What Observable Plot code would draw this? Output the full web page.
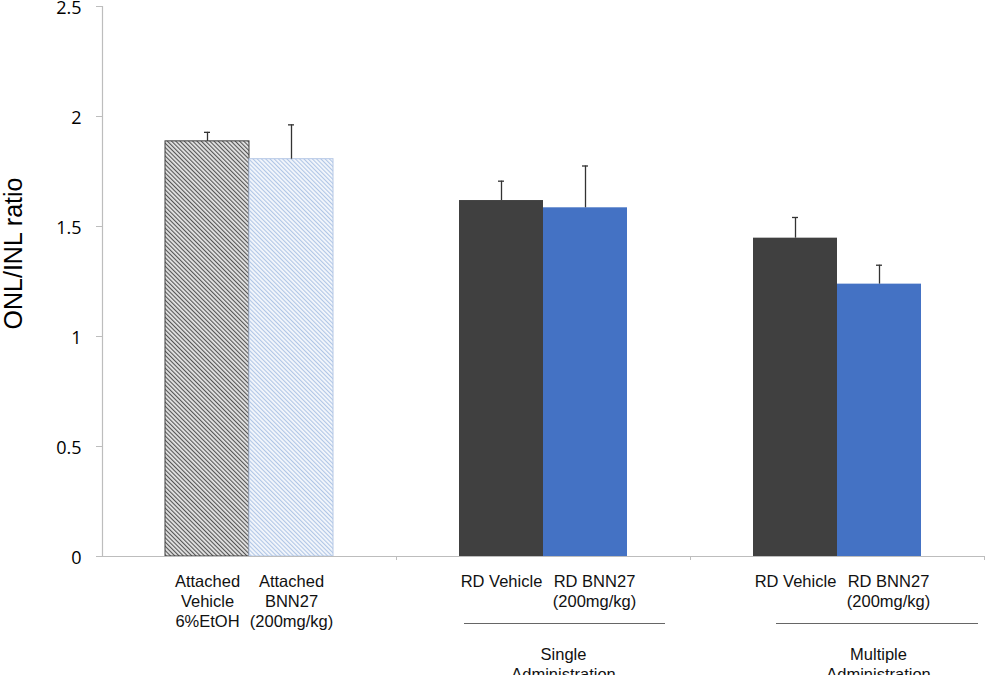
<!DOCTYPE html>
<html>
<head>
<meta charset="utf-8">
<script src="https://cdn.jsdelivr.net/npm/d3@7"></script>
<script src="https://cdn.jsdelivr.net/npm/@observablehq/plot@0.6"></script>
<style>
  html, body { margin: 0; padding: 0; background: #fff; overflow: hidden; }
</style>
</head>
<body>
<div id="chart"></div>
<script>
// ---- data ----
const groups = ["Attached", "Single", "Multiple"];
const sides = ["L", "R"];
const seriesKeys = ["attVehicle", "attBNN27", "rdVehicle", "rdBNN27", "rdVehicle", "rdBNN27"];
const barLabels = [
  "Attached\nVehicle\n6%EtOH",
  "Attached\nBNN27\n(200mg/kg)",
  "RD Vehicle",
  "RD BNN27\n(200mg/kg)",
  "RD Vehicle",
  "RD BNN27\n(200mg/kg)"
];
const means = [1.887, 1.806, 1.618, 1.585, 1.447, 1.238];
const errors = [0.041, 0.156, 0.088, 0.19, 0.094, 0.086];
const yTicks = [0, 0.5, 1, 1.5, 2, 2.5];
const yLabel = "ONL/INL ratio";
const annGroups = ["Single", "Multiple"];
const annTexts = ["Single\nAdministration", "Multiple\nAdministration"];

// ---- styles ----
const fillFor = {
  attVehicle: "url(#hatchDark)",
  attBNN27: "url(#hatchBlue)",
  rdVehicle: "#404040",
  rdBNN27: "#4472c4"
};
const strokeFor = {
  attVehicle: "#3f3f3f",
  attBNN27: "#b5c8e6",
  rdVehicle: "none",
  rdBNN27: "none"
};

const table = means.map((m, i) => ({
  group: groups[Math.floor(i / 2)],
  side: sides[i % 2],
  series: seriesKeys[i],
  label: barLabels[i],
  mean: m,
  err: errors[i]
}));
const ann = annGroups.map((g, i) => ({group: g, text: annTexts[i]}));

const labelFont = "'Liberation Sans', Arial, sans-serif";

const svg = Plot.plot({
  width: 985,
  height: 675,
  marginTop: 6,
  marginBottom: 119,
  marginLeft: 102,
  marginRight: 1,
  fx: {domain: groups, padding: 0, axis: null, label: null},
  x: {domain: sides, paddingInner: 0, paddingOuter: 0.75, axis: null, label: null},
  y: {domain: [0, 2.5], axis: null},
  color: {type: "identity"},
  style: {fontFamily: labelFont, fontSize: "16.5px", color: "#000", background: "#fff"},
  marks: [
    Plot.barY(table, {
      fx: "group", x: "side", y: "mean",
      fill: d => fillFor[d.series],
      stroke: d => strokeFor[d.series],
      strokeWidth: 1
    }),
    Plot.ruleX(table, {
      fx: "group", x: "side", y1: "mean", y2: d => d.mean + d.err,
      stroke: "#333", strokeWidth: 1.3
    }),
    Plot.tickY(table, {
      fx: "group", x: "side", y: d => d.mean + d.err,
      insetLeft: 39, insetRight: 39, stroke: "#333", strokeWidth: 1.3
    }),
    // axes
    Plot.ruleY([0], {stroke: "#bdbdbd", strokeWidth: 1.2}),
    Plot.frame({anchor: "left", facetAnchor: "left", stroke: "#bdbdbd", strokeWidth: 1.2}),
    Plot.frame({anchor: "right", insetTop: 550, insetBottom: -3, stroke: "#bdbdbd"}),
    Plot.axisY({
      ticks: yTicks, tickSize: 6, tickFormat: () => "",
      stroke: "#bdbdbd", label: null
    }),
    Plot.axisY({
      ticks: yTicks, tickSize: 0, tickPadding: 21, tickFormat: d => String(d),
      fill: "#000", label: null, dy: 2,
      fontFamily: "'Open Sans', Lato, sans-serif", fontSize: 18
    }),
    Plot.text([yLabel], {
      fx: () => groups[0], text: d => d, frameAnchor: "left",
      rotate: -90, dx: -81, dy: -28, fontSize: 25,
      textAnchor: "middle", lineAnchor: "bottom", fill: "#000"
    }),
    // bar labels
    Plot.text(table.filter(d => d.side === "L" || d.group === groups[0]), {
      fx: "group", x: "side", y: 0, text: "label",
      lineAnchor: "top", dy: 16, lineHeight: 1.21, fill: "#111"
    }),
    Plot.text(table.filter(d => d.side === "R" && d.group !== groups[0]), {
      fx: "group", x: "side", y: 0, text: "label",
      lineAnchor: "top", dy: 16, dx: 9, lineHeight: 1.21, fill: "#111"
    }),
    // group annotations
    Plot.ruleY(ann.slice(0, 1), {fx: "group", y: 0, dy: 67, insetLeft: 68, insetRight: 25, stroke: "#666", strokeWidth: 1.2}),
    Plot.ruleY(ann.slice(1, 2), {fx: "group", y: 0, dy: 67, insetLeft: 86, insetRight: 6, stroke: "#666", strokeWidth: 1.2}),
    Plot.text(ann.slice(0, 1), {fx: "group", y: 0, text: "text", lineAnchor: "top", dy: 89, dx: 20, lineHeight: 1.21, fill: "#111"}),
    Plot.text(ann.slice(1, 2), {fx: "group", y: 0, text: "text", lineAnchor: "top", dy: 89, dx: 41, lineHeight: 1.21, fill: "#111"})
  ]
});

// hatch patterns
const defs = d3.select(svg).insert("defs", ":first-child");
const pd = defs.append("pattern")
  .attr("id", "hatchDark").attr("patternUnits", "userSpaceOnUse")
  .attr("width", 3).attr("height", 3).attr("patternTransform", "rotate(-45)");
pd.append("rect").attr("width", 3).attr("height", 3).attr("fill", "#e4e4e4");
pd.append("rect").attr("width", 1.1).attr("height", 3).attr("fill", "#555");
const pb = defs.append("pattern")
  .attr("id", "hatchBlue").attr("patternUnits", "userSpaceOnUse")
  .attr("width", 3).attr("height", 3).attr("patternTransform", "rotate(-45)");
pb.append("rect").attr("width", 3).attr("height", 3).attr("fill", "#f4f7fc");
pb.append("rect").attr("width", 1.1).attr("height", 3).attr("fill", "#b0c6e6");

document.getElementById("chart").appendChild(svg);
</script>
</body>
</html>
